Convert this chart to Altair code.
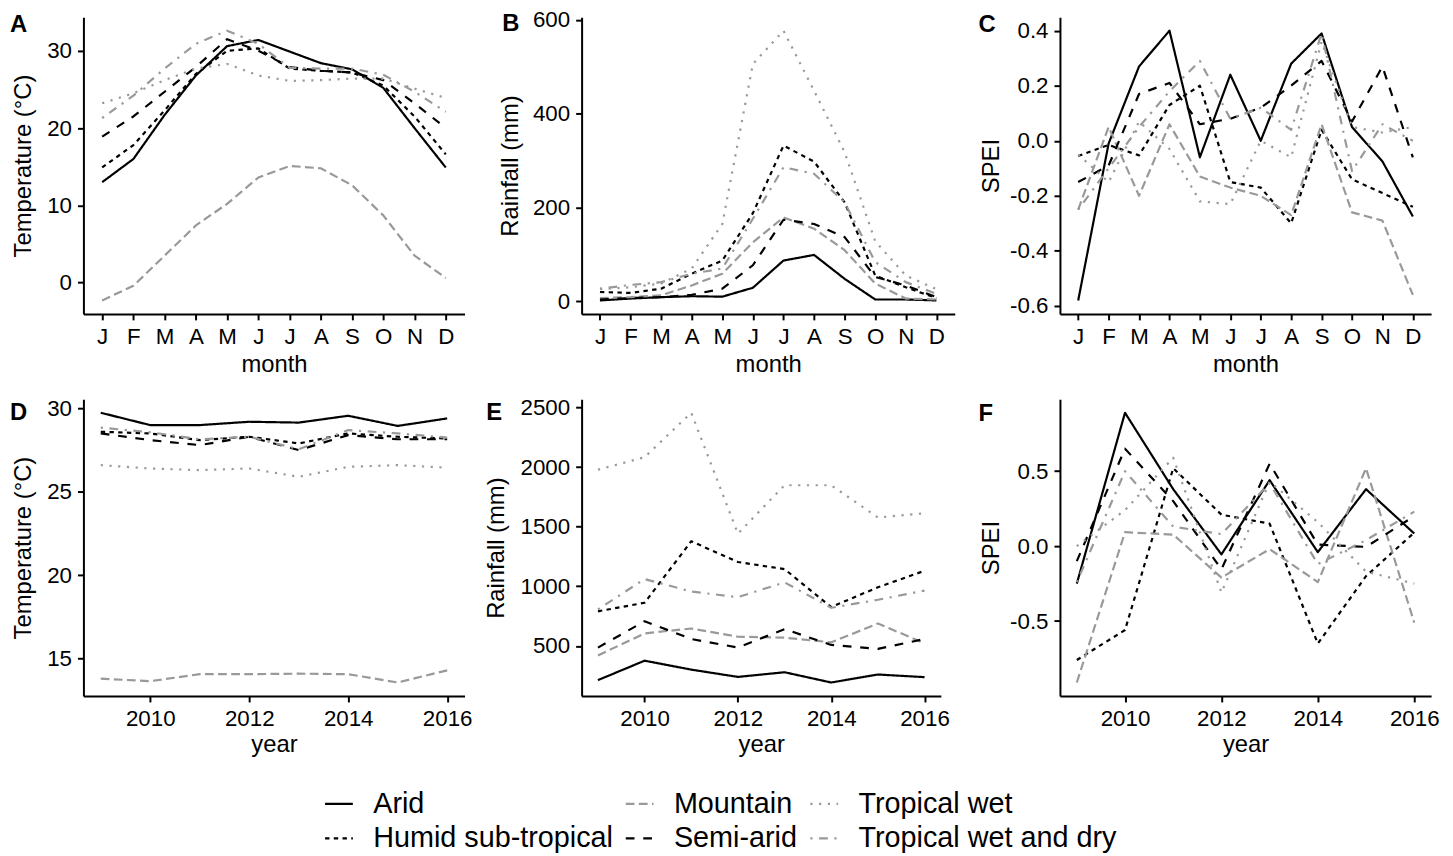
import altair as alt
import pandas as pd

FONT = "Liberation Sans"

# ---------------- categories ----------------
ZONES = ["Arid", "Humid sub-tropical", "Mountain", "Semi-arid",
         "Tropical wet", "Tropical wet and dry"]
LEGEND_ORDER = ["Arid", "Mountain", "Tropical wet",
                "Humid sub-tropical", "Semi-arid", "Tropical wet and dry"]
ZONE_COLOR = {"Arid": "#000000", "Humid sub-tropical": "#000000",
              "Mountain": "#999999", "Semi-arid": "#000000",
              "Tropical wet": "#999999", "Tropical wet and dry": "#999999"}
U = 2.2
ZONE_DASH = {"Arid": [1, 0], "Humid sub-tropical": [2 * U, 2 * U],
             "Mountain": [4 * U, 2 * U], "Semi-arid": [4 * U, 4 * U],
             "Tropical wet": [1 * U, 3 * U],
             "Tropical wet and dry": [1 * U, 3 * U, 4 * U, 3 * U]}

MONTH_LABELS = ["J", "F", "M", "A", "M", "J", "J", "A", "S", "O", "N", "D"]
MONTHS = list(range(1, 13))
YEARS = [2009, 2010, 2011, 2012, 2013, 2014, 2015, 2016]

# ---------------- A: temperature by month ----------------
temp_month = {
    "Arid": [13.0, 16.0, 21.7, 26.8, 30.6, 31.4, 29.9, 28.4, 27.6, 25.2, 20.0, 14.9],
    "Humid sub-tropical": [14.9, 17.8, 22.3, 27.0, 30.0, 30.3, 27.7, 27.4, 27.2, 25.5, 21.5, 16.6],
    "Mountain": [-2.3, -0.4, 3.5, 7.4, 10.2, 13.6, 15.1, 14.8, 12.6, 8.7, 3.5, 0.6],
    "Semi-arid": [18.9, 21.5, 24.7, 27.9, 31.5, 30.0, 27.9, 27.4, 27.2, 26.2, 23.2, 20.0],
    "Tropical wet": [23.2, 24.5, 26.2, 27.7, 28.3, 26.8, 26.1, 26.2, 26.4, 26.4, 25.1, 23.9],
    "Tropical wet and dry": [21.3, 24.2, 27.7, 30.9, 32.6, 30.9, 27.8, 27.7, 27.7, 26.9, 24.7, 22.1],
}
# ---------------- B: rainfall by month ----------------
rain_month = {
    "Arid": [2, 6, 9, 11, 10, 29, 87, 99, 48, 4, 4, 2],
    "Humid sub-tropical": [20, 18, 27, 59, 87, 188, 332, 298, 211, 55, 30, 7],
    "Mountain": [7, 9, 13, 34, 59, 126, 179, 155, 109, 38, 6, 4],
    "Semi-arid": [4, 7, 9, 14, 27, 77, 174, 165, 137, 52, 34, 9],
    "Tropical wet": [26, 30, 38, 70, 165, 506, 577, 449, 318, 128, 55, 26],
    "Tropical wet and dry": [27, 35, 41, 59, 70, 176, 286, 272, 211, 84, 41, 16],
}
# ---------------- C: SPEI by month ----------------
spei_month = {
    "Arid": [-0.58, -0.01, 0.27, 0.40, -0.06, 0.24, 0.00, 0.28, 0.39, 0.05, -0.075, -0.275],
    "Humid sub-tropical": [-0.055, -0.015, -0.053, 0.13, 0.20, -0.15, -0.17, -0.30, 0.04, -0.14, -0.19, -0.24],
    "Mountain": [-0.25, 0.05, -0.20, 0.06, -0.13, -0.17, -0.20, -0.27, 0.06, -0.26, -0.29, -0.56],
    "Semi-arid": [-0.15, -0.09, 0.17, 0.21, 0.06, 0.08, 0.12, 0.20, 0.29, 0.07, 0.27, -0.06],
    "Tropical wet": [-0.05, -0.15, 0.07, -0.03, -0.22, -0.23, 0.00, -0.06, 0.36, 0.05, 0.03, 0.05],
    "Tropical wet and dry": [-0.25, -0.10, 0.05, 0.18, 0.29, 0.08, 0.12, 0.04, 0.39, -0.11, 0.06, 0.00],
}
# ---------------- D: temperature by year ----------------
temp_year = {
    "Arid": [29.74, 29.0, 29.0, 29.2, 29.15, 29.56, 28.95, 29.4],
    "Humid sub-tropical": [28.6, 28.5, 28.1, 28.3, 27.9, 28.5, 28.3, 28.2],
    "Mountain": [13.8, 13.65, 14.07, 14.07, 14.1, 14.07, 13.57, 14.3],
    "Semi-arid": [28.5, 28.1, 27.8, 28.3, 27.5, 28.4, 28.15, 28.15],
    "Tropical wet": [26.6, 26.4, 26.3, 26.4, 25.9, 26.5, 26.6, 26.45],
    "Tropical wet and dry": [28.85, 28.57, 28.15, 28.3, 27.55, 28.7, 28.5, 28.25],
}
# ---------------- E: rainfall by year ----------------
rain_year = {
    "Arid": [213, 376, 301, 240, 279, 193, 260, 238],
    "Humid sub-tropical": [790, 862, 1378, 1204, 1144, 826, 992, 1130],
    "Mountain": [420, 605, 646, 577, 569, 530, 688, 522],
    "Semi-arid": [486, 707, 558, 486, 641, 508, 475, 558],
    "Tropical wet": [1978, 2083, 2456, 1442, 1848, 1848, 1577, 1613],
    "Tropical wet and dry": [807, 1061, 956, 909, 1033, 820, 887, 964],
}
# ---------------- F: SPEI by year ----------------
spei_year = {
    "Arid": [-0.25, 0.89, 0.38, -0.055, 0.44, -0.04, 0.38, 0.084],
    "Humid sub-tropical": [-0.76, -0.56, 0.52, 0.21, 0.15, -0.65, -0.20, 0.09],
    "Mountain": [-0.91, 0.093, 0.077, -0.21, -0.02, -0.24, 0.52, -0.51],
    "Semi-arid": [-0.10, 0.65, 0.30, -0.155, 0.55, 0.01, -0.005, 0.20],
    "Tropical wet": [0.00, 0.24, 0.59, -0.31, 0.43, 0.16, -0.17, -0.25],
    "Tropical wet and dry": [-0.24, 0.50, 0.13, 0.08, 0.42, -0.12, 0.04, 0.23],
}

H = 299
DEC_EXPR = "(datum.value < 0 ? '-' : '') + format(abs(datum.value), '.1f')"
INT_EXPR = "format(datum.value, 'd')"
MONTH_EXPR = "[" + ",".join("'%s'" % m for m in MONTH_LABELS) + "][datum.value - 1]"


def legend():
    return alt.Legend(title=None, orient="none", legendX=242, legendY=777,
                      direction="horizontal", columns=3, symbolType="stroke",
                      symbolSize=784, symbolStrokeWidth=2.2, labelFont=FONT,
                      labelFontSize=29, labelColor="black", labelLimit=600,
                      labelOffset=19, columnPadding=8, rowPadding=4, padding=0)


def panel(values, kind, y_title, y_ticks, y_expr, width, letter, ldx, ldy, title_x):
    xs = MONTHS if kind == "month" else YEARS
    rows = []
    for z in ZONES:
        for xv, yv in zip(xs, values[z]):
            rows.append({"zone": z, "t": xv, "v": yv})
    df = pd.DataFrame(rows)
    allv = [v for z in ZONES for v in values[z]]
    lo, hi = min(allv), max(allv)
    pad = (hi - lo) * 0.05
    if kind == "month":
        xdom = [1 - 0.6, 12 + 0.6]
        xaxis = alt.Axis(values=MONTHS, labelExpr=MONTH_EXPR, title="month",
                         titleY=58, titleBaseline="alphabetic")
    else:
        sp = (YEARS[-1] - YEARS[0]) * 0.05
        xdom = [YEARS[0] - sp, YEARS[-1] + sp]
        xaxis = alt.Axis(values=[2010, 2012, 2014, 2016], labelExpr=INT_EXPR,
                         title="year", titleY=56, titleBaseline="alphabetic")
    yaxis = alt.Axis(values=y_ticks, labelExpr=y_expr, title=y_title,
                     titleX=title_x, titleBaseline="alphabetic")
    return alt.Chart(df).mark_line(strokeWidth=2.2, strokeCap="butt", strokeJoin="round").encode(
        x=alt.X("t:Q", scale=alt.Scale(domain=xdom, nice=False, zero=False), axis=xaxis),
        y=alt.Y("v:Q", scale=alt.Scale(domain=[lo - pad, hi + pad], nice=False, zero=False), axis=yaxis),
        color=alt.Color("zone:N", scale=alt.Scale(domain=LEGEND_ORDER,
                        range=[ZONE_COLOR[z] for z in LEGEND_ORDER]), legend=legend()),
        strokeDash=alt.StrokeDash("zone:N", scale=alt.Scale(domain=LEGEND_ORDER,
                                  range=[ZONE_DASH[z] for z in LEGEND_ORDER]), legend=legend()),
    ).properties(
        width=width, height=H,
        title=alt.TitleParams(text=letter, anchor="start", frame="group", orient="top",
                              offset=0, dx=ldx, dy=ldy, baseline="alphabetic",
                              fontSize=24, fontWeight="bold", font=FONT, color="black"),
    )


def spacer(w):
    return alt.Chart(pd.DataFrame({"s": [0]})).mark_point(opacity=0).encode(
        x=alt.value(0), y=alt.value(0)).properties(width=w, height=H)


pA = panel(temp_month, "month", "Temperature (°C)", [0, 10, 20, 30], INT_EXPR, 384, "A", -74, 39, -53)
pB = panel(rain_month, "month", "Rainfall (mm)", [0, 200, 400, 600], INT_EXPR, 376, "B", -80, 46, -65)
pC = panel(spei_month, "month", "SPEI", [-0.6, -0.4, -0.2, 0.0, 0.2, 0.4], DEC_EXPR, 374, "C", -82, 39, -62)
pD = panel(temp_year, "year", "Temperature (°C)", [15, 20, 25, 30], INT_EXPR, 384, "D", -74, 47, -53)
pE = panel(rain_year, "year", "Rainfall (mm)", [500, 1000, 1500, 2000, 2500], INT_EXPR, 362, "E", -96, 48, -79)
pF = panel(spei_year, "year", "SPEI", [-0.5, 0.0, 0.5], DEC_EXPR, 374, "F", -82, 46, -62)

chart = alt.concat(
    pA, spacer(104), pB, spacer(106), pC,
    pD, spacer(118), pE, spacer(106), pF,
    columns=5, spacing={"row": 86, "column": 0}, bounds="flush", align="none",
).properties(
    padding={"left": 2, "top": -3, "right": 5, "bottom": 2}
).configure_view(
    stroke=None
).configure_axis(
    grid=False, domainColor="black", domainWidth=2, tickColor="black", tickWidth=2,
    tickSize=6, labelPadding=6, labelFont=FONT, labelFontSize=22.5, labelColor="black",
    titleFont=FONT, titleFontSize=24, titleFontWeight="normal", titleColor="black",
)

chart.save("out.html", embed_options={"renderer": "svg", "actions": False})
